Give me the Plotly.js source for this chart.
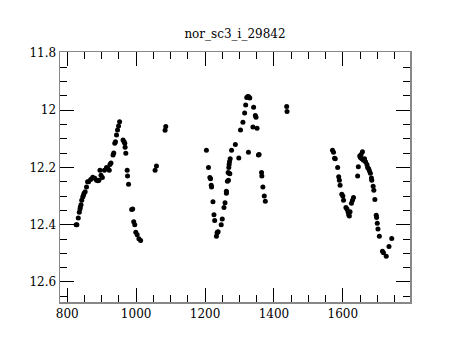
<!DOCTYPE html>
<html><head><meta charset="utf-8">
<script src="https://cdn.plot.ly/plotly-3.0.1.min.js"></script>
<style>html,body{margin:0;padding:0;background:#fff}</style>
</head><body><div id="chart" style="width:460px;height:340px"></div>
<script>
const chartTitle = "nor_sc3_i_29842";
const xTickVals = [800, 1000, 1200, 1400, 1600];
const yTickVals = [11.8, 12, 12.2, 12.4, 12.6];
const yTickText = ["11.8", "12", "12.2", "12.4", "12.6"];

const timeA = [826, 828, 832, 835, 837, 838, 840, 842, 845, 847, 849, 852, 856, 859, 862, 868, 874, 880, 885, 889, 892, 895, 898, 902, 908, 914, 918, 922, 924, 927, 933, 935, 938, 940, 943, 946, 949, 952,
  962, 965, 967, 968, 970, 974, 975, 978, 987, 990, 993, 996, 999, 1003, 1008, 1013, 1055, 1059, 1084, 1086];
const magA = [12.40, 12.40, 12.377, 12.357, 12.345, 12.338, 12.33, 12.315, 12.303, 12.297, 12.29, 12.285, 12.268, 12.25, 12.25, 12.242, 12.234, 12.238, 12.245, 12.247, 12.245, 12.21, 12.227, 12.235, 12.21, 12.20, 12.205, 12.21, 12.19, 12.185, 12.157, 12.15, 12.116, 12.11, 12.087, 12.069, 12.055, 12.041,
  12.104, 12.11, 12.116, 12.13, 12.151, 12.21, 12.23, 12.259, 12.347, 12.345, 12.39, 12.40, 12.426, 12.435, 12.449, 12.455, 12.21, 12.195, 12.07, 12.057];

const timeB = [1204, 1210, 1214, 1216, 1218, 1219, 1223, 1226, 1228, 1233, 1235, 1236, 1238, 1247, 1250, 1255, 1258, 1262, 1262, 1265, 1267, 1270, 1272, 1268, 1269, 1270, 1271, 1273, 1277, 1288, 1298, 1303, 1310, 1315, 1318, 1321, 1324, 1327, 1330, 1326, 1339, 1341, 1346, 1348, 1351, 1355, 1357, 1364, 1365, 1368, 1372, 1375, 1437, 1438];
const magB = [12.14, 12.20, 12.235, 12.24, 12.262, 12.268, 12.32, 12.365, 12.385, 12.44, 12.428, 12.426, 12.425, 12.40, 12.38, 12.34, 12.323, 12.283, 12.29, 12.248, 12.218, 12.22, 12.222, 12.245, 12.20, 12.19, 12.18, 12.17, 12.14, 12.12, 12.167, 12.069, 12.042, 12.01, 11.982, 11.956, 11.952, 11.953, 11.958, 12.147, 12.059, 11.99, 12.019, 12.025, 12.063, 12.157, 12.155, 12.218, 12.23, 12.268, 12.30, 12.318, 11.987, 12.005];

const timeC = [1570, 1573, 1576, 1578, 1585, 1588, 1590, 1592, 1597, 1600, 1602, 1609, 1612, 1615, 1619, 1617, 1621, 1625, 1628, 1631, 1643, 1645, 1649, 1651, 1653, 1655, 1657, 1660, 1663, 1666, 1670, 1672, 1675, 1677, 1680, 1683, 1684, 1688, 1690, 1693, 1697, 1698, 1700, 1702, 1706, 1715, 1718, 1726, 1734, 1742];
const magC = [12.14, 12.147, 12.168, 12.17, 12.2, 12.233, 12.245, 12.262, 12.294, 12.30, 12.315, 12.34, 12.345, 12.355, 12.37, 12.365, 12.355, 12.325, 12.315, 12.305, 12.23, 12.198, 12.16, 12.165, 12.155, 12.17, 12.145, 12.175, 12.17, 12.18, 12.19, 12.2, 12.205, 12.212, 12.22, 12.237, 12.245, 12.266, 12.28, 12.312, 12.367, 12.375, 12.395, 12.415, 12.44, 12.493, 12.498, 12.51, 12.476, 12.448];

const xs = timeA.concat(timeB, timeC);
const ys = magA.concat(magB, magC);

const fontFam = "'DejaVu Serif', 'Liberation Serif', serif";
const trace = {
  x: xs, y: ys, type: 'scatter', mode: 'markers',
  marker: {color: '#000', size: 5},
  hoverinfo: 'skip'
};
const axisCommon = {
  showline: true, linecolor: '#888', linewidth: 1.5, mirror: 'ticks',
  ticks: 'inside', ticklen: 14, tickcolor: '#000', tickwidth: 1,
  showgrid: false, zeroline: false,
  tickfont: {family: fontFam, size: 12, color: '#000'}
};
const layout = {
  width: 460, height: 340,
  margin: {l: 60, r: 50, t: 52, b: 38},
  paper_bgcolor: '#fff', plot_bgcolor: '#fff',
  showlegend: false,
  font: {family: fontFam},
  title: {text: chartTitle, x: 0.5, xref: 'paper', y: 0.914, yref: 'container', xanchor: 'center',
          font: {family: fontFam, size: 12, color: '#000'}},
  xaxis: Object.assign({}, axisCommon, {
    range: [779, 1795], tickmode: 'array', tickvals: xTickVals,
    minor: {dtick: 50, ticks: 'inside', ticklen: 7, tickcolor: '#000', showgrid: false}
  }),
  yaxis: Object.assign({}, axisCommon, {
    range: [12.67, 11.797], tickmode: 'array', tickvals: yTickVals, ticktext: yTickText,
    minor: {dtick: 0.05, tick0: 11.8, ticks: 'inside', ticklen: 7, tickcolor: '#000', showgrid: false}
  })
};
Plotly.newPlot('chart', [trace], layout, {staticPlot: true, displayModeBar: false});
</script></body></html>
